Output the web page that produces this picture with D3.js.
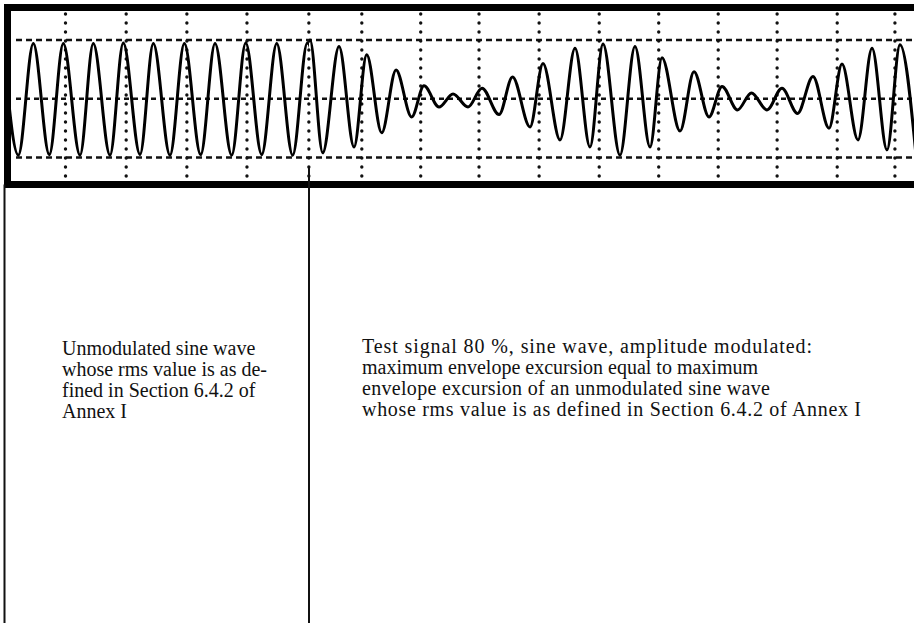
<!DOCTYPE html>
<html>
<head>
<meta charset="utf-8">
<script src="https://cdn.jsdelivr.net/npm/d3@7"></script>
<style>
  html, body { margin: 0; padding: 0; background: #fff; }
  svg { display: block; }
  .caption { font-family: "Liberation Serif", "DejaVu Serif", serif; font-size: 20px; fill: #111; }
</style>
</head>
<body>
<script>
// ---------------------
// Data
// time in screen divisions, amplitude in divisions (+1 / -1 = dashed lines)
// ---------------------

// left trace: unmodulated sine, peaks and troughs
var unmodT = [-0.05, 0.207, 0.459, 0.728, 0.963, 1.244, 1.467, 1.748, 1.971, 2.252, 2.476,
              2.756, 2.997, 3.272, 3.513, 3.793, 4.029, 4.297, 4.55, 4.818, 5.064, 5.323];
var unmodV = [0.94, -0.96, 0.94, -0.95, 0.94, -0.96, 0.94, -0.96, 0.95, -0.95, 0.94,
              -0.96, 0.94, -0.95, 0.94, -0.96, 0.95, -0.95, 0.94, -0.96, 0.95, -0.95];

// right trace: 80 % amplitude modulated sine, peaks and troughs
var modT = [4.84, 5.109, 5.323, 5.597, 5.849, 6.062, 6.314, 6.555, 6.818, 7.025, 7.277,
            7.513, 7.765, 8.0, 8.286, 8.513, 8.807, 9.025, 9.311, 9.563, 9.815, 10.034,
            10.319, 10.571, 10.824, 11.025, 11.328, 11.563, 11.815, 12.034, 12.294, 12.529,
            12.79, 13.042, 13.303, 13.563, 13.832, 14.05, 14.319, 14.555, 14.807, 15.025, 15.294];
var modV = [-0.95, 1.0, -0.92, 0.89, -0.82, 0.75, -0.58, 0.49, -0.31, 0.22, -0.14,
            0.08, -0.14, 0.18, -0.27, 0.37, -0.48, 0.60, -0.70, 0.86, -0.82, 0.93,
            -0.96, 0.89, -0.82, 0.70, -0.55, 0.46, -0.31, 0.21, -0.19, 0.10,
            -0.19, 0.18, -0.25, 0.38, -0.50, 0.59, -0.70, 0.86, -0.87, 0.92, -0.96];

// graticule
var gridT = [1.0, 2.02, 3.04, 4.05, 5.09, 5.98, 6.97, 7.95, 8.96, 9.97, 10.97, 11.97, 12.96, 13.97, 14.94];
var gridV = [-1, 0, 1];

// captions
var leftLines = ["Unmodulated sine wave", "whose rms value is as de-", "fined in Section 6.4.2 of", "Annex I"];
var rightLines = ["Test signal 80 %, sine wave, amplitude modulated:",
                  "maximum envelope excursion equal to maximum",
                  "envelope excursion of an unmodulated sine wave",
                  "whose rms value is as defined in Section 6.4.2 of Annex I"];

// ---------------------
// Layout
// ---------------------
var w = 914, h = 623;
var splitX = 309;      // where the two oscillograms meet
var frameTop = 7.5, frameBottom = 184.5, frameLeft = 7.5, frameW = 7;

// printed widths of the right caption lines (book face is set looser than Times)
var rightWidths = [450, 391, 408, 499];

var svg = d3.select("body").append("svg")
    .attr("width", w)
    .attr("height", h);

var x = d3.scaleLinear().domain([0, 15]).range([6, 898.5]);
var y = d3.scaleLinear().domain([-1, 1]).range([157.5, 40]);

// clip areas for the two traces
var defs = svg.append("defs");
defs.append("clipPath").attr("id", "clipL").append("rect")
    .attr("x", frameLeft + frameW / 2).attr("y", frameTop).attr("width", splitX - frameLeft - frameW / 2).attr("height", frameBottom - frameTop);
defs.append("clipPath").attr("id", "clipR").append("rect")
    .attr("x", splitX).attr("y", frameTop).attr("width", w - splitX).attr("height", frameBottom - frameTop);
defs.append("clipPath").attr("id", "clipIn").append("rect")
    .attr("x", frameLeft + frameW / 2).attr("y", frameTop + frameW / 2).attr("width", w).attr("height", frameBottom - frameTop - frameW);

// ---------------------
// Graticule
// ---------------------
var grid = svg.append("g").attr("clip-path", "url(#clipIn)");

grid.selectAll("line.h")
    .data(gridV)
    .enter()
    .append("line")
    .attr("class", "h")
    .attr("x1", 16).attr("x2", w)
    .attr("y1", function(d) { return y(d); })
    .attr("y2", function(d) { return y(d); })
    .attr("stroke", "#111")
    .attr("stroke-width", 2.5)
    .attr("stroke-dasharray", function(d) { return d == 0 ? "5,4" : "6,4"; });

grid.selectAll("line.v")
    .data(gridT)
    .enter()
    .append("line")
    .attr("class", "v")
    .attr("x1", function(d) { return x(d); })
    .attr("x2", function(d) { return x(d); })
    .attr("y1", 14).attr("y2", 181)
    .attr("stroke", "#111")
    .attr("stroke-width", 3.4)
    .attr("stroke-linecap", "round")
    .attr("stroke-dasharray", "0,9");

// ---------------------
// Traces
// ---------------------
var line = d3.line()
    .x(function(d) { return x(d[0]); })
    .y(function(d) { return y(d[1]); })
    .curve(d3.curveMonotoneX);

svg.append("path")
    .datum(d3.zip(unmodT, unmodV))
    .attr("clip-path", "url(#clipL)")
    .attr("d", line)
    .attr("fill", "none")
    .attr("stroke", "#000")
    .attr("stroke-width", 3);

svg.append("path")
    .datum(d3.zip(modT, modV))
    .attr("clip-path", "url(#clipR)")
    .attr("d", line)
    .attr("fill", "none")
    .attr("stroke", "#000")
    .attr("stroke-width", 3);

// ---------------------
// Frame and table rules
// ---------------------
svg.append("line").attr("x1", 4).attr("x2", w).attr("y1", frameTop).attr("y2", frameTop)
    .attr("stroke", "#000").attr("stroke-width", frameW);
svg.append("line").attr("x1", 4).attr("x2", w).attr("y1", frameBottom).attr("y2", frameBottom)
    .attr("stroke", "#000").attr("stroke-width", frameW);
svg.append("line").attr("x1", frameLeft).attr("x2", frameLeft).attr("y1", 4).attr("y2", frameBottom + 3.5)
    .attr("stroke", "#000").attr("stroke-width", frameW);

svg.append("line").attr("x1", 4.5).attr("x2", 4.5).attr("y1", frameBottom).attr("y2", h)
    .attr("stroke", "#111").attr("stroke-width", 2);
svg.append("line").attr("x1", splitX).attr("x2", splitX).attr("y1", 168).attr("y2", h)
    .attr("stroke", "#111").attr("stroke-width", 2);

// ---------------------
// Captions
// ---------------------
svg.append("g").selectAll("text")
    .data(leftLines)
    .enter()
    .append("text")
    .attr("class", "caption")
    .attr("x", 62)
    .attr("y", function(d, i) { return 355 + i * 21; })
    .text(function(d) { return d; });

svg.append("g").selectAll("text")
    .data(rightLines)
    .enter()
    .append("text")
    .attr("class", "caption")
    .attr("x", 362)
    .attr("y", function(d, i) { return 353 + i * 21; })
    .text(function(d) { return d; })
    .each(function(d, i) {
      // only open the spacing up, never squeeze the glyphs
      if (this.getComputedTextLength() < rightWidths[i]) {
        d3.select(this)
          .attr("textLength", rightWidths[i])
          .attr("lengthAdjust", "spacing");
      }
    });
</script>
</body>
</html>
